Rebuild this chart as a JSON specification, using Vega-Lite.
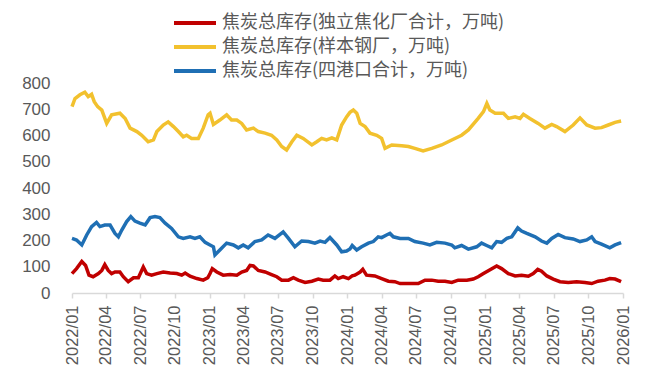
{
  "$schema": "https://vega.github.io/schema/vega-lite/v6.json",
  "width": 551,
  "height": 210,
  "autosize": "none",
  "padding": {"left": 72, "top": 83, "right": 23, "bottom": 91},
  "background": "white",
  "config": {"view": {"stroke": null}, "font": "Liberation Sans"},
  "datasets": {
    "red": [
      {"d":"2022-01-01","v":74},{"d":"2022-01-13","v":93},{"d":"2022-01-27","v":120},{"d":"2022-02-06","v":105},{"d":"2022-02-15","v":68},{"d":"2022-02-26","v":62},{"d":"2022-03-12","v":74},{"d":"2022-03-21","v":86},{"d":"2022-03-29","v":108},{"d":"2022-04-07","v":86},{"d":"2022-04-16","v":74},{"d":"2022-04-25","v":80},{"d":"2022-05-08","v":80},{"d":"2022-05-17","v":62},{"d":"2022-05-30","v":43},{"d":"2022-06-13","v":58},{"d":"2022-06-26","v":58},{"d":"2022-07-09","v":99},{"d":"2022-07-18","v":74},{"d":"2022-07-31","v":68},{"d":"2022-08-14","v":74},{"d":"2022-08-31","v":80},{"d":"2022-09-18","v":76},{"d":"2022-10-06","v":74},{"d":"2022-10-19","v":68},{"d":"2022-10-28","v":76},{"d":"2022-11-10","v":64},{"d":"2022-11-28","v":55},{"d":"2022-12-15","v":49},{"d":"2022-12-27","v":58},
      {"d":"2023-01-02","v":74},{"d":"2023-01-08","v":93},{"d":"2023-01-20","v":80},{"d":"2023-02-06","v":68},{"d":"2023-02-24","v":70},{"d":"2023-03-14","v":68},{"d":"2023-03-27","v":80},{"d":"2023-04-09","v":86},{"d":"2023-04-18","v":105},{"d":"2023-04-27","v":103},{"d":"2023-05-10","v":86},{"d":"2023-05-28","v":80},{"d":"2023-06-14","v":70},{"d":"2023-06-28","v":62},{"d":"2023-07-11","v":49},{"d":"2023-07-29","v":49},{"d":"2023-08-11","v":58},{"d":"2023-08-24","v":49},{"d":"2023-09-11","v":40},{"d":"2023-09-29","v":45},{"d":"2023-10-16","v":53},{"d":"2023-10-29","v":49},{"d":"2023-11-16","v":49},{"d":"2023-11-29","v":65},{"d":"2023-12-08","v":55},{"d":"2023-12-21","v":62},
      {"d":"2024-01-04","v":55},{"d":"2024-01-14","v":65},{"d":"2024-01-21","v":68},{"d":"2024-02-04","v":80},{"d":"2024-02-11","v":90},{"d":"2024-02-21","v":68},{"d":"2024-03-14","v":65},{"d":"2024-04-01","v":55},{"d":"2024-04-19","v":45},{"d":"2024-05-06","v":43},{"d":"2024-05-20","v":36},{"d":"2024-06-11","v":36},{"d":"2024-07-07","v":36},{"d":"2024-07-25","v":49},{"d":"2024-08-12","v":49},{"d":"2024-08-29","v":45},{"d":"2024-09-16","v":45},{"d":"2024-10-04","v":40},{"d":"2024-10-21","v":49},{"d":"2024-11-13","v":49},{"d":"2024-11-30","v":53},{"d":"2024-12-13","v":62},{"d":"2024-12-27","v":74},
      {"d":"2025-01-10","v":86},{"d":"2025-01-31","v":103},{"d":"2025-02-13","v":93},{"d":"2025-03-03","v":74},{"d":"2025-03-21","v":65},{"d":"2025-04-07","v":68},{"d":"2025-04-25","v":64},{"d":"2025-05-08","v":74},{"d":"2025-05-20","v":90},{"d":"2025-05-30","v":83},{"d":"2025-06-13","v":65},{"d":"2025-06-30","v":53},{"d":"2025-07-18","v":43},{"d":"2025-08-09","v":40},{"d":"2025-08-31","v":43},{"d":"2025-09-22","v":40},{"d":"2025-10-10","v":36},{"d":"2025-10-27","v":45},{"d":"2025-11-14","v":49},{"d":"2025-11-27","v":55},{"d":"2025-12-11","v":53},{"d":"2025-12-27","v":43}
    ],
    "yellow": [
      {"d":"2022-01-01","v":710},{"d":"2022-01-09","v":741},{"d":"2022-01-22","v":755},{"d":"2022-02-04","v":765},{"d":"2022-02-13","v":748},{"d":"2022-02-22","v":757},{"d":"2022-03-01","v":729},{"d":"2022-03-10","v":710},{"d":"2022-03-21","v":697},{"d":"2022-04-03","v":646},{"d":"2022-04-16","v":679},{"d":"2022-05-08","v":685},{"d":"2022-05-22","v":665},{"d":"2022-06-04","v":628},{"d":"2022-06-22","v":615},{"d":"2022-07-05","v":601},{"d":"2022-07-22","v":576},{"d":"2022-08-05","v":583},{"d":"2022-08-14","v":615},{"d":"2022-08-31","v":640},{"d":"2022-09-13","v":652},{"d":"2022-09-27","v":634},{"d":"2022-10-10","v":615},{"d":"2022-10-23","v":595},{"d":"2022-11-01","v":601},{"d":"2022-11-14","v":589},{"d":"2022-12-02","v":589},{"d":"2022-12-15","v":628},{"d":"2022-12-28","v":679},
      {"d":"2023-01-02","v":685},{"d":"2023-01-11","v":642},{"d":"2023-01-28","v":659},{"d":"2023-02-15","v":679},{"d":"2023-02-28","v":659},{"d":"2023-03-14","v":659},{"d":"2023-03-27","v":646},{"d":"2023-04-09","v":621},{"d":"2023-04-27","v":628},{"d":"2023-05-10","v":615},{"d":"2023-05-28","v":609},{"d":"2023-06-14","v":601},{"d":"2023-06-28","v":583},{"d":"2023-07-11","v":558},{"d":"2023-07-24","v":545},{"d":"2023-08-07","v":576},{"d":"2023-08-20","v":601},{"d":"2023-09-06","v":589},{"d":"2023-09-29","v":564},{"d":"2023-10-12","v":576},{"d":"2023-10-25","v":589},{"d":"2023-11-07","v":583},{"d":"2023-11-21","v":591},{"d":"2023-12-04","v":583},{"d":"2023-12-17","v":640},{"d":"2023-12-30","v":671},
      {"d":"2024-01-08","v":688},{"d":"2024-01-17","v":697},{"d":"2024-01-26","v":685},{"d":"2024-02-04","v":646},{"d":"2024-02-17","v":634},{"d":"2024-03-01","v":609},{"d":"2024-03-19","v":601},{"d":"2024-04-01","v":589},{"d":"2024-04-10","v":551},{"d":"2024-04-28","v":564},{"d":"2024-05-24","v":561},{"d":"2024-06-11","v":558},{"d":"2024-06-28","v":551},{"d":"2024-07-20","v":541},{"d":"2024-08-12","v":551},{"d":"2024-09-07","v":564},{"d":"2024-10-04","v":583},{"d":"2024-10-30","v":601},{"d":"2024-11-17","v":621},{"d":"2024-12-13","v":665},{"d":"2024-12-27","v":691},
      {"d":"2025-01-05","v":722},{"d":"2025-01-13","v":697},{"d":"2025-01-27","v":685},{"d":"2025-02-18","v":685},{"d":"2025-03-03","v":665},{"d":"2025-03-21","v":671},{"d":"2025-04-03","v":665},{"d":"2025-04-12","v":681},{"d":"2025-04-29","v":665},{"d":"2025-05-21","v":646},{"d":"2025-06-08","v":628},{"d":"2025-06-26","v":642},{"d":"2025-07-09","v":634},{"d":"2025-07-31","v":615},{"d":"2025-08-22","v":640},{"d":"2025-09-09","v":667},{"d":"2025-09-27","v":640},{"d":"2025-10-19","v":628},{"d":"2025-11-05","v":630},{"d":"2025-11-23","v":640},{"d":"2025-12-11","v":650},{"d":"2025-12-27","v":655}
    ],
    "blue": [
      {"d":"2022-01-01","v":208},{"d":"2022-01-13","v":202},{"d":"2022-01-27","v":183},{"d":"2022-02-09","v":221},{"d":"2022-02-22","v":253},{"d":"2022-03-07","v":269},{"d":"2022-03-16","v":253},{"d":"2022-03-29","v":259},{"d":"2022-04-12","v":259},{"d":"2022-04-25","v":227},{"d":"2022-05-04","v":214},{"d":"2022-05-13","v":240},{"d":"2022-05-26","v":272},{"d":"2022-06-06","v":291},{"d":"2022-06-17","v":274},{"d":"2022-06-30","v":266},{"d":"2022-07-14","v":259},{"d":"2022-07-27","v":287},{"d":"2022-08-09","v":291},{"d":"2022-08-22","v":287},{"d":"2022-09-05","v":266},{"d":"2022-09-22","v":246},{"d":"2022-10-10","v":214},{"d":"2022-10-23","v":208},{"d":"2022-11-10","v":214},{"d":"2022-11-23","v":208},{"d":"2022-12-06","v":214},{"d":"2022-12-20","v":193},
      {"d":"2023-01-02","v":183},{"d":"2023-01-11","v":176},{"d":"2023-01-15","v":145},{"d":"2023-01-28","v":164},{"d":"2023-02-15","v":190},{"d":"2023-03-05","v":183},{"d":"2023-03-18","v":172},{"d":"2023-03-31","v":183},{"d":"2023-04-13","v":172},{"d":"2023-05-01","v":196},{"d":"2023-05-19","v":202},{"d":"2023-06-05","v":221},{"d":"2023-06-23","v":208},{"d":"2023-07-15","v":233},{"d":"2023-07-29","v":208},{"d":"2023-08-15","v":176},{"d":"2023-09-02","v":198},{"d":"2023-09-20","v":196},{"d":"2023-10-07","v":190},{"d":"2023-10-21","v":198},{"d":"2023-11-03","v":193},{"d":"2023-11-16","v":211},{"d":"2023-12-04","v":183},{"d":"2023-12-17","v":157},{"d":"2023-12-30","v":160},
      {"d":"2024-01-08","v":168},{"d":"2024-01-14","v":181},{"d":"2024-01-26","v":164},{"d":"2024-02-08","v":176},{"d":"2024-02-26","v":190},{"d":"2024-03-10","v":196},{"d":"2024-03-23","v":214},{"d":"2024-04-01","v":211},{"d":"2024-04-14","v":221},{"d":"2024-04-23","v":227},{"d":"2024-05-02","v":214},{"d":"2024-05-20","v":208},{"d":"2024-06-11","v":208},{"d":"2024-06-28","v":196},{"d":"2024-07-20","v":190},{"d":"2024-08-07","v":183},{"d":"2024-08-25","v":193},{"d":"2024-09-16","v":190},{"d":"2024-10-04","v":183},{"d":"2024-10-12","v":172},{"d":"2024-10-30","v":181},{"d":"2024-11-17","v":167},{"d":"2024-12-09","v":176},{"d":"2024-12-22","v":190},
      {"d":"2025-01-06","v":180},{"d":"2025-01-18","v":172},{"d":"2025-01-31","v":196},{"d":"2025-02-13","v":193},{"d":"2025-02-27","v":208},{"d":"2025-03-12","v":214},{"d":"2025-03-28","v":248},{"d":"2025-04-07","v":236},{"d":"2025-04-21","v":227},{"d":"2025-05-13","v":214},{"d":"2025-05-30","v":198},{"d":"2025-06-13","v":190},{"d":"2025-06-26","v":208},{"d":"2025-07-13","v":223},{"d":"2025-07-31","v":211},{"d":"2025-08-22","v":206},{"d":"2025-09-09","v":196},{"d":"2025-09-27","v":202},{"d":"2025-10-10","v":214},{"d":"2025-10-19","v":196},{"d":"2025-11-05","v":186},{"d":"2025-11-27","v":172},{"d":"2025-12-11","v":183},{"d":"2025-12-27","v":192}
    ]
  },
  "encoding": {
    "x": {
      "field": "d", "type": "temporal",
      "scale": {"type": "utc", "domain": [1640995200000, 1767225600000]},
      "axis": {
        "title": null,
        "values": [1640995200000,1648771200000,1656633600000,1664582400000,1672531200000,1680307200000,1688169600000,1696118400000,1704067200000,1711929600000,1719792000000,1727740800000,1735689600000,1743465600000,1751328000000,1759276800000,1767225600000],
        "labelExpr": "utcFormat(datum.value, '%Y/%m')",
        "labelAngle": -90,
        "labelAlign": "right",
        "labelBaseline": "middle",
        "labelFontSize": 16.5,
        "labelColor": "#595959",
        "labelPadding": 7,
        "labelOverlap": false,
        "labelFlush": false,
        "domainColor": "#D9D9D9",
        "domainWidth": 1.5,
        "tickColor": "#D9D9D9",
        "tickSize": 5,
        "tickWidth": 1.5,
        "grid": false
      }
    },
    "y": {
      "field": "v", "type": "quantitative",
      "scale": {"domain": [0, 800], "nice": false},
      "axis": {
        "title": null,
        "values": [0, 100, 200, 300, 400, 500, 600, 700, 800],
        "domain": false,
        "ticks": false,
        "grid": false,
        "labelFontSize": 17,
        "labelColor": "#595959",
        "labelPadding": 22
      }
    },
    "color": {
      "field": "s", "type": "nominal",
      "scale": {
        "domain": ["焦炭总库存(独立焦化厂合计，万吨)", "焦炭总库存(样本钢厂，万吨)", "焦炭总库存(四港口合计，万吨)"],
        "range": ["#C00000", "#F2C12E", "#1F6FB4"]
      },
      "legend": {
        "title": null,
        "orient": "none",
        "legendX": 100,
        "legendY": -72,
        "direction": "vertical",
        "symbolType": "stroke",
        "symbolSize": 1764,
        "symbolStrokeWidth": 4,
        "labelFont": "Noto Sans CJK SC",
        "labelFontSize": 18,
        "labelColor": "#595959",
        "labelOffset": 4,
        "labelLimit": 500,
        "clipHeight": 24,
        "rowPadding": 0
      }
    }
  },
  "layer": [
    {
      "data": {"name": "red"},
      "transform": [{"calculate": "'焦炭总库存(独立焦化厂合计，万吨)'", "as": "s"}],
      "mark": {"type": "line", "strokeWidth": 3.5}
    },
    {
      "data": {"name": "yellow"},
      "transform": [{"calculate": "'焦炭总库存(样本钢厂，万吨)'", "as": "s"}],
      "mark": {"type": "line", "strokeWidth": 3.5}
    },
    {
      "data": {"name": "blue"},
      "transform": [{"calculate": "'焦炭总库存(四港口合计，万吨)'", "as": "s"}],
      "mark": {"type": "line", "strokeWidth": 3.5}
    }
  ]
}
